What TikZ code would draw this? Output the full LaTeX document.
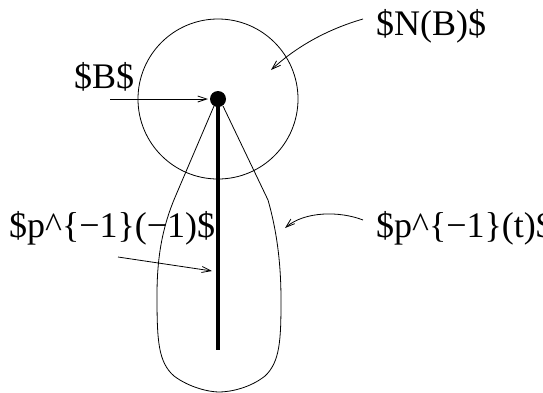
\documentclass[tikz,border=0pt]{standalone}
\usepackage{fontspec}
\setmainfont{Liberation Serif}
\usetikzlibrary{arrows.meta,positioning,calc}

\begin{document}
\begin{tikzpicture}[x=1pt, y=-1pt, >={Straight Barb[length=9pt,width=6pt]},
  lbl/.style={inner sep=0pt, anchor=base west, font=\fontsize{36}{40}\selectfont},
  thin/.style={line width=0.8pt}]
\useasboundingbox (0,0) rectangle (543,392);
% neighbourhood and base point
\node[draw, thin, circle, minimum size=160pt, inner sep=0pt] (nbhd) at (218,99) {};
\node[circle, fill=black, minimum size=16pt, inner sep=0pt] (bpt) at (218,99) {};
\coordinate (fibend) at (218,350);
\draw[line width=3.5pt] (bpt.center) -- (fibend);
% the fibre p^{-1}(t)
\draw[thin] (214,106) -- (176,195) .. controls (163,225) and (157,255) .. (157,295)
  .. controls (157,340) and (158,362) .. (174,376) .. controls (190,388) and (210,392) .. (219,392)
  .. controls (230,392) and (250,388) .. (265,376) .. controls (280,362) and (281,340) .. (281,300)
  .. controls (281,260) and (276,228) .. (268,200) -- (223,106);
% labels
\node[lbl] (lblN) at (376,35) {\$N(B)\$};
\node[lbl] (lblB) at (74,88) {\$B\$};
\node[lbl] (lblPm) at (9,237) {\$p\textasciicircum\{−1\}(−1)\$};
\node[lbl] (lblPt) at (376,237) {\$p\textasciicircum\{−1\}(t)\$};
\coordinate (tailN) at (363,19);  \coordinate (headN) at (271,70);
\coordinate (tailB) at (110,99);  \coordinate (headB) at (208,99);
\coordinate (tailPm) at (118,257); \coordinate (headPm) at (212,271);
\coordinate (tailPt) at (363,220); \coordinate (headPt) at (285,228);
\draw[thin,->] (tailN) .. controls (325,30) and (295,48) .. (headN);
\draw[thin,->] (tailB) -- (headB);
\draw[thin,->] (tailPm) -- (headPm);
\draw[thin,->] (tailPt) .. controls (340,211) and (305,211) .. (headPt);
\end{tikzpicture}
\end{document}
